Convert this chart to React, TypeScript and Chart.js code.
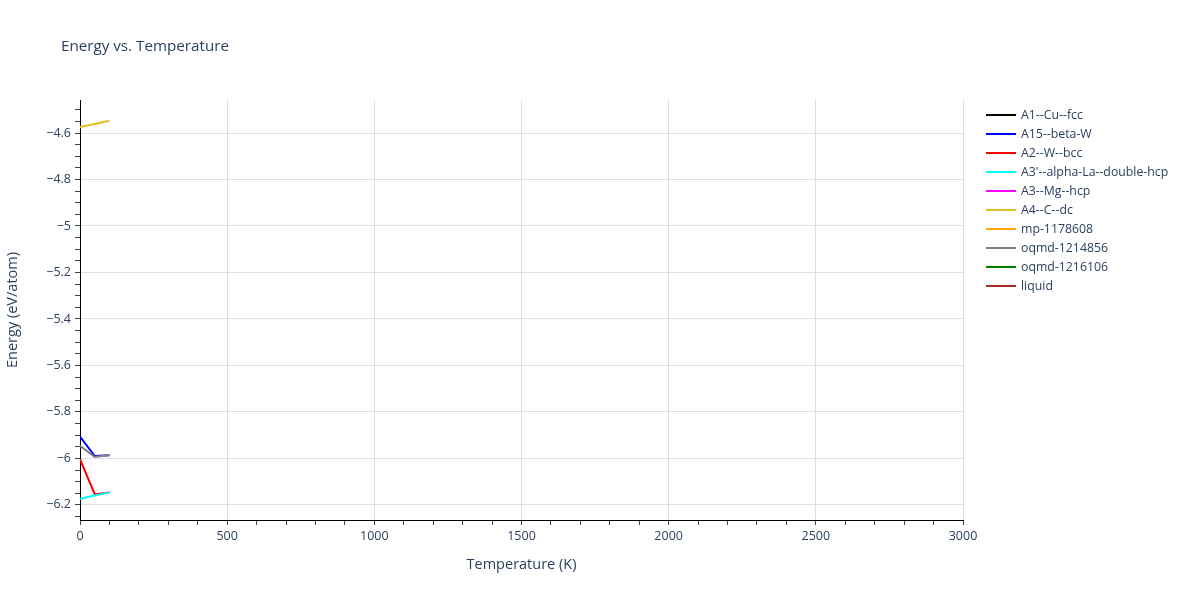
import React, { useEffect, useRef } from 'react';
import { Chart, registerables } from 'chart.js';

Chart.register(...registerables);

// temperatures (K) at which each phase was sampled
const temps = [0, 50, 100];

const seriesNames = [
  'A1--Cu--fcc',
  'A15--beta-W',
  'A2--W--bcc',
  "A3'--alpha-La--double-hcp",
  'A3--Mg--hcp',
  'A4--C--dc',
  'mp-1178608',
  'oqmd-1214856',
  'oqmd-1216106',
  'liquid',
];
const seriesColors = [
  '#000000',
  '#0000ff',
  '#ff0000',
  '#00ffff',
  '#ff00ff',
  '#e3c021',
  '#ffa500',
  '#808080',
  '#008000',
  '#a52a2a',
];

// energies (eV/atom); empty arrays = no visible points in this range
const a1Cu: number[] = [];
const a15BetaW = [-5.906, -5.99, -5.986];
const a2Wbcc = [-6.003, -6.154, -6.147];
const a3AlphaLa = [-6.174, -6.16, -6.147];
const a3Mg: number[] = [];
const a4Cdc = [-4.574, -4.561, -4.547];
const mp1178608: number[] = [];
const oqmd1214856 = [-5.946, -5.994, -5.985];
const oqmd1216106: number[] = [];
const liquid: number[] = [];

const seriesValues = [a1Cu, a15BetaW, a2Wbcc, a3AlphaLa, a3Mg, a4Cdc, mp1178608, oqmd1214856, oqmd1216106, liquid];

const xMajorTicks = [0, 500, 1000, 1500, 2000, 2500, 3000];
const yMajorTicks = [-4.6, -4.8, -5, -5.2, -5.4, -5.6, -5.8, -6, -6.2];

const FONT = '"Open Sans", "Noto Sans", sans-serif';
const TEXT = '#2a3f5f';

const isMajor = (v: number, list: number[]) => list.some((m) => Math.abs(m - v) < 1e-6);
const fmt = (v: number) => (v < 0 ? '\u2212' + String(Math.abs(Number(v.toFixed(2)))) : String(v));

const App: React.FC = () => {
  const canvasRef = useRef<HTMLCanvasElement | null>(null);
  const chartRef = useRef<Chart | null>(null);

  useEffect(() => {
    if (!canvasRef.current) return;
    if (chartRef.current) chartRef.current.destroy();
    const ctx = canvasRef.current.getContext('2d');
    if (!ctx) return;

    const datasets = seriesNames.map((name, i) => ({
      label: name,
      data: seriesValues[i].map((y, j) => ({ x: temps[j], y })),
      borderColor: seriesColors[i],
      backgroundColor: seriesColors[i],
      borderWidth: 2,
      pointRadius: 0,
      fill: false,
      tension: 0,
      order: -i, // later traces on top, like plotly
    }));

    chartRef.current = new Chart(ctx, {
      type: 'line',
      data: { datasets },
      options: {
        responsive: false,
        animation: false,
        layout: { padding: { left: 0, right: 237, top: 100, bottom: 22 } },
        plugins: {
          legend: { display: false },
          tooltip: { enabled: false },
          title: { display: false },
        },
        scales: {
          x: {
            type: 'linear',
            min: 0,
            max: 3000,
            afterBuildTicks: (scale: any) => {
              const t = [];
              for (let v = 0; v <= 3000; v += 100) t.push({ value: v });
              scale.ticks = t;
            },
            afterFit: (scale: any) => {
              scale.height = 58;
            },
            ticks: {
              autoSkip: false,
              maxRotation: 0,
              padding: 4,
              color: TEXT,
              font: { family: FONT, size: 12.5 },
              callback: (v: any) => (isMajor(Number(v), xMajorTicks) ? String(v) : ''),
            },
            grid: {
              color: (c: any) => (isMajor(c.tick.value, xMajorTicks) && c.tick.value !== 0 ? '#dfdfdf' : 'rgba(0,0,0,0)'),
              tickColor: '#444',
              tickLength: 5,
              lineWidth: 1,
            },
            border: { color: '#000', width: 1 },
            title: {
              display: true,
              text: 'Temperature (K)',
              color: TEXT,
              font: { family: FONT, size: 14.5 },
              padding: { top: 4, bottom: 4 },
            },
          },
          y: {
            type: 'linear',
            min: -6.265,
            max: -4.458,
            afterBuildTicks: (scale: any) => {
              const t = [];
              for (let k = -125; k <= -90; k++) t.push({ value: k * 0.05 });
              scale.ticks = t;
            },
            afterFit: (scale: any) => {
              scale.width = 80;
            },
            ticks: {
              autoSkip: false,
              padding: 4,
              color: TEXT,
              font: { family: FONT, size: 12.5 },
              callback: (v: any) => (isMajor(Number(v), yMajorTicks) ? fmt(Number(v)) : ''),
            },
            grid: {
              color: (c: any) => (isMajor(c.tick.value, yMajorTicks) ? '#dfdfdf' : 'rgba(0,0,0,0)'),
              tickColor: '#444',
              tickLength: 5,
              lineWidth: 1,
            },
            border: { color: '#000', width: 1 },
            title: {
              display: true,
              text: 'Energy (eV/atom)',
              color: TEXT,
              font: { family: FONT, size: 14.5 },
              padding: { bottom: 8 },
            },
          },
        },
      },
    });

    return () => {
      if (chartRef.current) {
        chartRef.current.destroy();
        chartRef.current = null;
      }
    };
  }, []);

  return (
    <div style={{ position: 'fixed', left: 0, top: 0, width: 1200, height: 600, background: '#fff', fontFamily: FONT }}>
      <canvas ref={canvasRef} width={1200} height={600} style={{ width: 1200, height: 600 }} />
      <div style={{ position: 'absolute', left: 61, top: 35, fontSize: 15.2, color: TEXT }}>Energy vs. Temperature</div>
      <div style={{ position: 'absolute', left: 986, top: 105 }}>
        {seriesNames.map((name, i) => (
          <div key={name} style={{ display: 'flex', alignItems: 'center', height: 19 }}>
            <span style={{ display: 'inline-block', width: 30, height: 2, background: seriesColors[i], marginRight: 5 }} />
            <span style={{ fontSize: 12.3, color: TEXT, whiteSpace: 'nowrap' }}>{name}</span>
          </div>
        ))}
      </div>
    </div>
  );
};

export default App;
